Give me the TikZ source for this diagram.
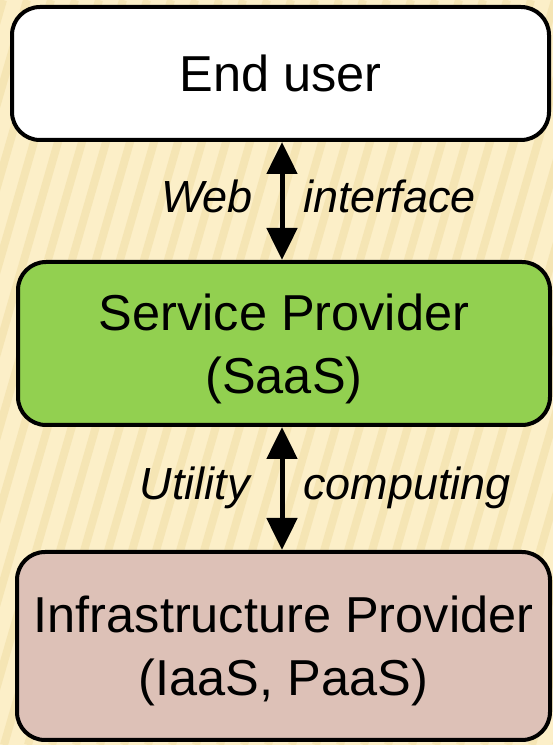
\documentclass[tikz,border=0pt]{standalone}
\usepackage{fontspec}
\setmainfont{Liberation Sans}
\usetikzlibrary{arrows.meta}

\definecolor{paper}{RGB}{252,239,200}
\definecolor{streak}{RGB}{240,221,165}
\definecolor{saasgreen}{RGB}{146,208,80}
\definecolor{iaaspink}{RGB}{221,193,183}

\tikzset{
  layer/.style={draw=black, line width=4pt, rounded corners=28pt, inner sep=0pt,
    align=center, font=\fontsize{50.5}{63}\selectfont},
  link/.style={line width=5pt,
    {Triangle[width=30pt,length=32pt]}-{Triangle[width=30pt,length=32pt]}},
  tag/.style={font=\fontsize{45}{50}\selectfont\itshape, inner sep=0pt}
}

\begin{document}
\begin{tikzpicture}[x=1pt,y=1pt]
	% striped paper
	\fill[paper] (0,0) rectangle (553,745);
	\useasboundingbox (0,0) rectangle (553,745);
	\begin{scope}
		\clip (0,0) rectangle (553,745);
		\foreach \x in {-260,-236,...,560}
		\draw[streak, line width=8pt, opacity=0.55] (\x,0) -- ++(215,745);
	\end{scope}
	
	% the three layers
	\node[layer, fill=white, minimum width=537pt, minimum height=133pt]
	(user) at (280.5,671.5) {End user};
	\node[layer, fill=saasgreen, minimum width=532pt, minimum height=163pt]
	(saas) at (284,401.5) {\rule{0pt}{47pt}Service Provider\\(SaaS)};
	\node[layer, fill=iaaspink, minimum width=533pt, minimum height=188pt]
	(infra) at (283.5,99) {\rule{0pt}{47pt}Infrastructure Provider\\(IaaS, PaaS)};
	
	\coordinate (ax) at (282,0);
	\draw[link] (user.south -| ax) -- (saas.north -| ax);
	\draw[link] (saas.south -| ax) -- (infra.north -| ax);
	
	\node[tag, anchor=base east] (web) at (253,532) {Web};
	\node[tag, anchor=base west] (iface) at (303,532) {interface};
	\node[tag, anchor=base east] (util) at (250,245) {Utility};
	\node[tag, anchor=base west] (comp) at (303,245) {computing};
\end{tikzpicture}
\end{document}
